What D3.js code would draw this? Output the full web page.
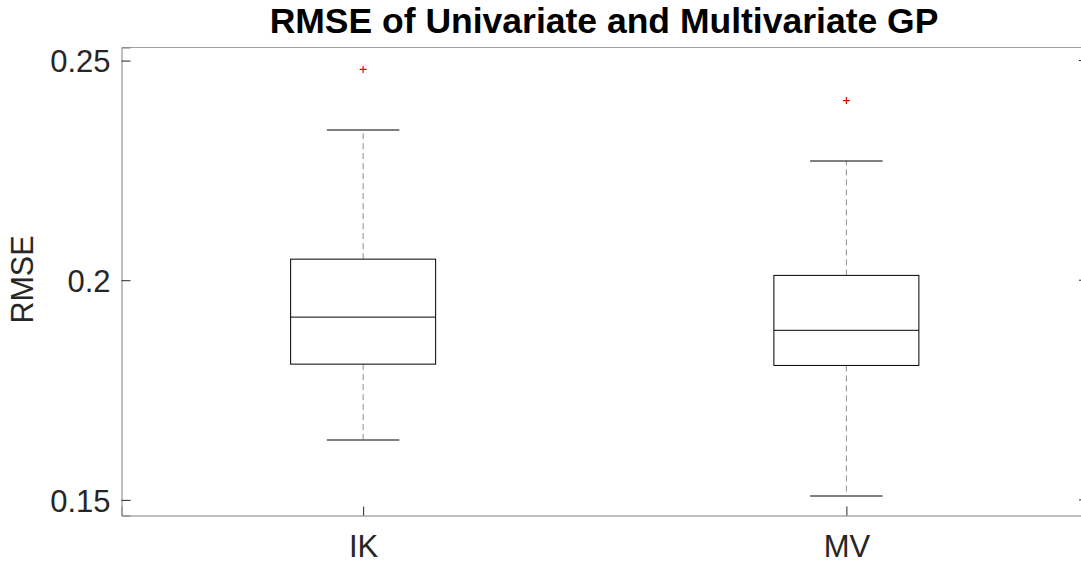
<!DOCTYPE html>
<html>
<head>
<meta charset="utf-8">
<script src="https://cdn.jsdelivr.net/npm/d3@7"></script>
<style>
  body { margin: 0; background: #fff; overflow: hidden; }
  text { font-family: "Liberation Sans", Arial, sans-serif; }
</style>
</head>
<body>
<div id="chart"></div>
<script>
// box stats
const groups = ["IK", "MV"];
const whiskerLow = [0.1638, 0.1511];
const q1 = [0.1809, 0.1806];
const median = [0.1916, 0.1886];
const q3 = [0.2048, 0.2011];
const whiskerHigh = [0.2343, 0.2272];
const outliers = [[0.2480], [0.2409]];
const yTicks = [0.15, 0.2, 0.25];

const W = 1081, H = 563;
const margin = {top: 47.5, left: 121.5};
const width = 1088 - margin.left, height = 515.5 - margin.top;

const svg = d3.select("#chart").append("svg")
  .attr("width", W).attr("height", H);

const g = svg.append("g").attr("transform", `translate(${margin.left},${margin.top})`);

const x = d3.scalePoint().domain(groups).range([0, width]).padding(0.5);
const y = d3.scaleLinear().domain([0.14644, 0.25298]).range([height, 0]);
const boxW = 145;

// frame
g.append("line").attr("x1", 0).attr("x2", width).attr("y1", 0).attr("y2", 0)
  .attr("stroke", "#a0a0a0");
g.append("line").attr("x1", width).attr("x2", width).attr("y1", 0).attr("y2", height)
  .attr("stroke", "#a0a0a0");

// y axis (ticks inward)
const yAxis = g.append("g")
  .call(d3.axisRight(y).tickValues(yTicks).tickSize(9).tickFormat(d3.format("")));
yAxis.select(".domain").attr("stroke", "#808080");
yAxis.selectAll(".tick line").attr("stroke", "#262626");
yAxis.selectAll(".tick text").attr("x", -11).attr("text-anchor", "end")
  .attr("font-size", 31).attr("fill", "#262626").attr("dy", "0.36em");

// right side ticks
g.append("g").selectAll("line").data(yTicks).join("line")
  .attr("x1", width - 9).attr("x2", width)
  .attr("y1", d => y(d)).attr("y2", d => y(d))
  .attr("stroke", "#262626");

// x axis
const xAxis = g.append("g").attr("transform", `translate(0,${height})`)
  .call(d3.axisTop(x).tickSize(9));
xAxis.select(".domain").attr("stroke", "#808080");
xAxis.selectAll(".tick line").attr("stroke", "#262626");
xAxis.selectAll(".tick text").attr("y", 41).attr("dy", 0)
  .attr("font-size", 31).attr("fill", "#262626");

// boxes
const idx = groups.map((d, i) => i);
const bx = g.append("g");

// dashed whiskers
bx.selectAll(".wUp").data(idx).join("line")
  .attr("x1", i => x(groups[i])).attr("x2", i => x(groups[i]))
  .attr("y1", i => y(q3[i])).attr("y2", i => y(whiskerHigh[i]))
  .attr("stroke", "#8c8c8c").attr("stroke-dasharray", "6,4");
bx.selectAll(".wDn").data(idx).join("line")
  .attr("x1", i => x(groups[i])).attr("x2", i => x(groups[i]))
  .attr("y1", i => y(q1[i])).attr("y2", i => y(whiskerLow[i]))
  .attr("stroke", "#8c8c8c").attr("stroke-dasharray", "6,4");

// caps
[whiskerHigh, whiskerLow].forEach(arr => {
  bx.append("g").selectAll("line").data(idx).join("line")
    .attr("x1", i => x(groups[i]) - boxW / 4).attr("x2", i => x(groups[i]) + boxW / 4)
    .attr("y1", i => Math.round(y(arr[i])) + 0.5).attr("y2", i => Math.round(y(arr[i])) + 0.5)
    .attr("stroke", "#000");
});

// box
bx.append("g").selectAll("rect").data(idx).join("rect")
  .attr("x", i => x(groups[i]) - boxW / 2)
  .attr("y", i => y(q3[i]))
  .attr("width", boxW)
  .attr("height", i => y(q1[i]) - y(q3[i]))
  .attr("fill", "none").attr("stroke", "#000");

// median
bx.append("g").selectAll("line").data(idx).join("line")
  .attr("x1", i => x(groups[i]) - boxW / 2).attr("x2", i => x(groups[i]) + boxW / 2)
  .attr("y1", i => y(median[i])).attr("y2", i => y(median[i]))
  .attr("stroke", "#000");

// outliers
const out = [];
outliers.forEach((arr, i) => arr.forEach(v => out.push({g: groups[i], v: v})));
bx.append("g").selectAll("path").data(out).join("path")
  .attr("d", d => `M${x(d.g) - 3.5},${y(d.v)}h7M${x(d.g)},${y(d.v) - 3.5}v7`)
  .attr("stroke", "red").attr("stroke-width", 1.2);

// title
svg.append("text")
  .attr("x", 604).attr("y", 33)
  .attr("text-anchor", "middle")
  .attr("font-size", 35.5).attr("font-weight", "bold")
  .text("RMSE of Univariate and Multivariate GP");

// y label
svg.append("text")
  .attr("transform", `translate(33,${margin.top + height / 2 - 2}) rotate(-90)`)
  .attr("text-anchor", "middle")
  .attr("font-size", 30.5).attr("fill", "#262626")
  .text("RMSE");
</script>
</body>
</html>
